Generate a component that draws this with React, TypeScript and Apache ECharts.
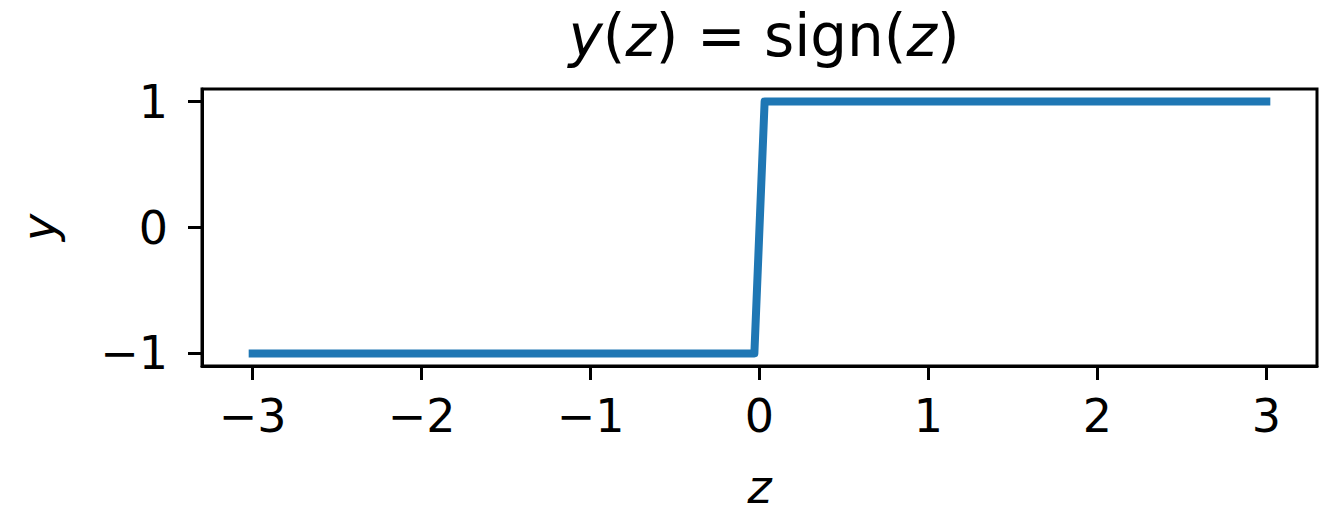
import React, { useEffect, useRef } from "react";
import * as echarts from "echarts";

// Sign function sampled around the jump at z = 0
const zValues = [-3, -0.0303, 0.0303, 3];
const yValues = [-1, -1, 1, 1];

const xTicks = [-3, -2, -1, 0, 1, 2, 3];
const yTicks = [-1, 0, 1];

const FONT = "DejaVu Sans";
const fmt = (v: number) => (v < 0 ? "\u2212" + Math.abs(v) : String(v));

export default function App() {
  const ref = useRef<HTMLDivElement>(null);

  useEffect(() => {
    if (!ref.current) return;
    const chart = echarts.init(ref.current, undefined, { renderer: "svg" });
    chart.setOption({
      animation: false,
      backgroundColor: "#ffffff",
      title: {
        text: "{i|y}({i|z}) = sign({i|z})",
        left: 759,
        textAlign: "center",
        top: 2,
        textStyle: {
          fontFamily: FONT,
          fontSize: 58,
          fontWeight: "normal",
          color: "#000",
          rich: {
            i: { fontFamily: FONT, fontSize: 58, fontStyle: "italic", color: "#000" },
          },
        },
      },
      grid: {
        left: 202,
        top: 89,
        width: 1115,
        height: 277,
        outerBoundsMode: "none",
        containLabel: false,
        show: true,
        borderColor: "#000",
        borderWidth: 3,
        backgroundColor: "transparent",
      },
      xAxis: {
        type: "value",
        min: -3.3,
        max: 3.3,
        name: "z",
        nameLocation: "middle",
        nameGap: 98,
        nameTextStyle: { fontFamily: FONT, fontSize: 46, fontStyle: "italic", color: "#000" },
        axisLine: { show: true, onZero: false, lineStyle: { color: "#000", width: 3 } },
        axisTick: { show: true, length: 14, lineStyle: { color: "#000", width: 3 }, customValues: xTicks },
        axisLabel: {
          fontFamily: FONT,
          fontSize: 46,
          color: "#000",
          margin: 27,
          customValues: xTicks,
          formatter: (v: number) => fmt(v),
        },
        splitLine: { show: false },
      },
      yAxis: {
        type: "value",
        min: -1.1,
        max: 1.1,
        name: "y",
        nameLocation: "middle",
        nameGap: 140,
        nameRotate: 90,
        nameTextStyle: { fontFamily: FONT, fontSize: 46, fontStyle: "italic", color: "#000" },
        axisLine: { show: true, onZero: false, lineStyle: { color: "#000", width: 3 } },
        axisTick: { show: true, length: 14, lineStyle: { color: "#000", width: 3 }, customValues: yTicks },
        axisLabel: {
          fontFamily: FONT,
          fontSize: 46,
          color: "#000",
          margin: 34,
          customValues: yTicks,
          formatter: (v: number) => fmt(v),
        },
        splitLine: { show: false },
      },
      series: [
        {
          type: "line",
          data: zValues.map((z, i) => [z, yValues[i]]),
          showSymbol: false,
          symbol: "none",
          lineStyle: { color: "#1f77b4", width: 8, cap: "square", join: "round" },
        },
      ],
    });
    return () => chart.dispose();
  }, []);

  return (
    <div
      ref={ref}
      style={{ position: "fixed", left: 0, top: 0, width: 1329, height: 507 }}
    />
  );
}
